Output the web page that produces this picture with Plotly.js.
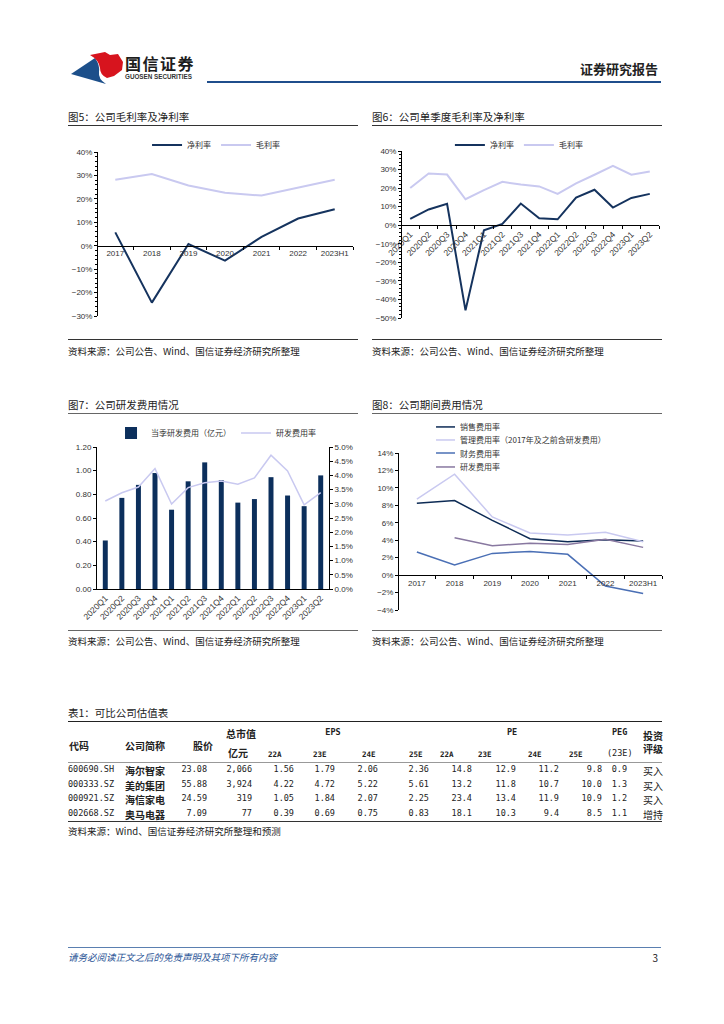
<!DOCTYPE html>
<html><head><meta charset="utf-8">
<script src="https://cdn.plot.ly/plotly-3.0.1.min.js"></script>
<style>
body{margin:0;background:#fff;}
#page{position:relative;width:724px;height:1024px;overflow:hidden;font-family:"Noto Sans CJK SC","Noto Sans",sans-serif;color:#222;background:#fff;}
.t{position:absolute;white-space:nowrap;}
.hl{position:absolute;height:0;}
.plot{position:absolute;}
</style></head><body><div id="page">
<svg style="position:absolute;left:68px;top:50px" width="60" height="36" viewBox="0 0 60 36">
 <path d="M3,24 L27,8 Q32,15 31,22 Q30,29 38,34 Z" fill="#1c4f8a"/>
 <path d="M22,5 L37,2 L42,5 L50,4 L55,12 L54,20 L46,26 L39,28 Q32,25 32,18 Q31,10 22,5 Z" fill="#d7141e"/>
</svg>
<div id="p5" class="plot"></div>
<div id="p6" class="plot"></div>
<div id="p7" class="plot"></div>
<div id="p8" class="plot"></div>
</div>
<script>
// ---------- DATA ----------
const annualYears = ['2017','2018','2019','2020','2021','2022','2023H1'];
const netMarginAnnual = [5.7, -24.3, 0.7, -6.4, 3.8, 11.6, 15.6];
const grossMarginAnnual = [28.2, 30.6, 25.7, 22.6, 21.4, 24.7, 28.2];

const quarters = ['2020Q1','2020Q2','2020Q3','2020Q4','2021Q1','2021Q2','2021Q3','2021Q4','2022Q1','2022Q2','2022Q3','2022Q4','2023Q1','2023Q2'];
const netMarginQ = [3.4, 8.5, 11.5, -45.9, -2.7, 0.7, 11.7, 3.8, 3.2, 14.9, 19.1, 9.5, 14.7, 16.9];
const grossMarginQ = [20.1, 27.9, 27.3, 14.0, 18.9, 23.4, 21.9, 20.9, 16.9, 22.5, 27.2, 32.0, 27.2, 29.0];

const rdExpenseQ = [0.41, 0.77, 0.88, 0.98, 0.67, 0.91, 1.07, 0.92, 0.73, 0.76, 0.945, 0.79, 0.70, 0.96];
const rdRatioQ = [3.10, 3.39, 3.59, 4.24, 2.99, 3.57, 3.74, 3.80, 3.69, 3.91, 4.71, 4.16, 2.96, 3.39];

const sellingRatio = [8.24, 8.54, 6.28, 4.18, 3.83, 4.06, 3.91];
const adminRatio = [8.70, 11.57, 6.67, 4.83, 4.60, 4.90, 3.83];
const financeRatio = [2.64, 1.15, 2.49, 2.72, 2.38, -1.26, -2.11];
const rdRatioAnnual = [null, 4.29, 3.37, 3.64, 3.52, 4.10, 3.18];

const tblCodes = ['600690.SH','000333.SZ','000921.SZ','002668.SZ'];
const tblNames = ['海尔智家','美的集团','海信家电','奥马电器'];
const tblPrice = ['23.08','55.88','24.59','7.09'];
const tblMcap = ['2,066','3,924','319','77'];
const eps22A = ['1.56','4.22','1.05','0.39'];
const eps23E = ['1.79','4.72','1.84','0.69'];
const eps24E = ['2.06','5.22','2.07','0.75'];
const eps25E = ['2.36','5.61','2.25','0.83'];
const pe22A = ['14.8','13.2','23.4','18.1'];
const pe23E = ['12.9','11.8','13.4','10.3'];
const pe24E = ['11.2','10.7','11.9','9.4'];
const pe25E = ['9.8','10.0','10.9','8.5'];
const peg23E = ['0.9','1.3','1.2','1.1'];
const tblRating = ['买入','买入','买入','增持'];

// ---------- PAGE TEXT ----------
const page = document.getElementById('page');
function txt(s, x, y, opt){
  opt = opt || {};
  const d = document.createElement('div');
  d.className = 't';
  d.textContent = s;
  const fs = opt.size || 10;
  d.style.fontSize = fs + 'px';
  d.style.lineHeight = (fs*1.3) + 'px';
  d.style.top = (y - fs*0.65) + 'px';
  if (opt.anchor === 'r') { d.style.right = (724 - x) + 'px'; }
  else if (opt.anchor === 'c') { d.style.left = x + 'px'; d.style.transform = 'translateX(-50%)'; }
  else { d.style.left = x + 'px'; }
  if (opt.weight) d.style.fontWeight = opt.weight;
  if (opt.color) d.style.color = opt.color;
  if (opt.family) d.style.fontFamily = opt.family;
  if (opt.style) d.style.fontStyle = opt.style;
  if (opt.ls) d.style.letterSpacing = opt.ls + 'px';
  page.appendChild(d);
  return d;
}
function hline(x1, x2, y, w, c){
  const d = document.createElement('div');
  d.className = 'hl';
  d.style.left = x1 + 'px'; d.style.width = (x2 - x1) + 'px';
  d.style.top = y + 'px'; d.style.borderTop = w + 'px solid ' + c;
  page.appendChild(d);
}
// header
txt('国信证券', 125, 63, {size:16, weight:'700', color:'#1d1d1d', ls:1.5});
txt('GUOSEN SECURITIES', 125, 77, {size:6.3, weight:'700', color:'#333', family:'"Liberation Sans", Arial, sans-serif'});
txt('证券研究报告', 658, 69, {size:13, weight:'700', anchor:'r', color:'#222'});
hline(207, 661, 81, 2, '#1f4e8c');

// figure titles
const srcText = '资料来源：公司公告、Wind、国信证券经济研究所整理';
txt('图5：公司毛利率及净利率', 68, 117, {size:10.5});
txt('图6：公司单季度毛利率及净利率', 372, 117, {size:10.5});
hline(68, 358, 125, 1, '#333'); hline(372, 662, 125, 1, '#333');
hline(68, 358, 339, 1, '#333'); hline(372, 662, 339, 1, '#333');
txt(srcText, 68, 351, {size:9.5});
txt(srcText, 372, 351, {size:9.5});

txt('图7：公司研发费用情况', 68, 405, {size:10.5});
txt('图8：公司期间费用情况', 372, 405, {size:10.5});
hline(68, 358, 413, 1, '#666'); hline(372, 662, 413, 1, '#666');
hline(68, 358, 630, 1, '#666'); hline(372, 662, 630, 1, '#666');
txt(srcText, 68, 641, {size:9.5});
txt(srcText, 372, 641, {size:9.5});

// table
txt('表1：可比公司估值表', 68, 713, {size:10.5});
hline(68, 662, 721, 1.5, '#222');
const hb = {size:10, weight:'700'};
txt('代码', 69, 745, hb); txt('公司简称', 125, 745, hb); txt('股价', 193, 745, hb);
txt('总市值', 226, 733, hb); txt('亿元', 228, 752, hb);
txt('EPS', 333, 733, {size:8.5, anchor:'c', weight:'700', family:'"DejaVu Sans Mono", monospace'});
txt('PE', 512, 733, {size:8.5, anchor:'c', weight:'700', family:'"DejaVu Sans Mono", monospace'});
txt('PEG', 612, 733, {size:8.5, weight:'700', family:'"DejaVu Sans Mono", monospace'});
txt('(23E)', 607, 754, {size:8.5, family:'"DejaVu Sans Mono", monospace'});
txt('投资', 643, 735, hb); txt('评级', 643, 748, hb);
const subX = [268, 313, 362, 409, 440, 478, 528, 569];
const subL = ['22A','23E','24E','25E','22A','23E','24E','25E'];
subL.forEach((s,i)=>txt(s, subX[i], 755, {size:7.5, family:'"DejaVu Sans Mono", monospace', weight:'700'}));
hline(68, 662, 762, 1, '#999');
const rowY = [770, 785, 799, 814];
const numCols = [
  [tblPrice, 207], [tblMcap, 252], [eps22A, 294], [eps23E, 335], [eps24E, 378], [eps25E, 429],
  [pe22A, 472], [pe23E, 516], [pe24E, 559], [pe25E, 602], [peg23E, 627]
];
const mono = '"DejaVu Sans Mono", "Liberation Mono", monospace';
rowY.forEach((y, r) => {
  txt(tblCodes[r], 68, y, {size:8.5, family:mono});
  txt(tblNames[r], 125, y, {size:10, weight:'700'});
  numCols.forEach(c => txt(c[0][r], c[1], y, {size:8.5, family:mono, anchor:'r'}));
  txt(tblRating[r], 643, y, {size:10});
});
hline(68, 662, 821, 1, '#333');
txt('资料来源：Wind、国信证券经济研究所整理和预测', 68, 831, {size:9.5});

// footer
hline(68, 661, 947, 1, '#5a7fb0');
txt('请务必阅读正文之后的免责声明及其项下所有内容', 68, 957, {size:9.5, color:'#2a5496', style:'italic'});
txt('3', 658, 957, {size:10, anchor:'r', color:'#222'});

// ---------- CHARTS ----------
const NAVY = '#15335e', LAV = '#c9c9f0';
const tickFont = {family:'"Liberation Sans", Arial, sans-serif', size:8, color:'#333'};
const legFont = {family:'"Noto Sans CJK SC", sans-serif', size:8, color:'#333'};
const cfg = {displayModeBar:false, staticPlot:true};
function place(id, l, t, w, h){ const d = document.getElementById(id); d.style.left=l+'px'; d.style.top=t+'px'; d.style.width=w+'px'; d.style.height=h+'px'; }
function yax(range, dtick, extra){
  return Object.assign({range:range, dtick:dtick, showline:true, linecolor:'#000', linewidth:1, ticks:'outside', ticklen:3, tickcolor:'#000',
    minor:{ticks:'outside', ticklen:2, tickcolor:'#000', dtick:dtick/5}, showgrid:false, zeroline:false, tickfont:tickFont, fixedrange:true}, extra||{});
}
function xcat(n, pos, angle, fs){
  return {type:'category', anchor:'free', position:pos, range:[-0.5, n-0.5], showline:true, linecolor:'#000', linewidth:1, ticks:'outside', ticklen:3, tickcolor:'#000',
    tickson:'boundaries', showgrid:false, zeroline:false, tickfont:Object.assign({}, tickFont, {size:fs||8}), tickangle:angle, automargin:false,
    ticklabeloverflow:'allow'};
}
function base(m, leg){
  return {width:m.w, height:m.h, margin:{l:m.l, r:m.r, t:m.t, b:m.b, pad:0, autoexpand:false}, paper_bgcolor:'rgba(0,0,0,0)', plot_bgcolor:'rgba(0,0,0,0)',
    font:tickFont, showlegend:true, legend:Object.assign({font:legFont, bgcolor:'rgba(0,0,0,0)', itemwidth:30}, leg)};
}

// Fig 5
place('p5', 60, 127, 302, 210);
Plotly.newPlot('p5', [
  {x:annualYears, y:netMarginAnnual, name:'净利率', type:'scatter', mode:'lines', line:{color:NAVY, width:2}},
  {x:annualYears, y:grossMarginAnnual, name:'毛利率', type:'scatter', mode:'lines', line:{color:LAV, width:2}}
], Object.assign(base({w:302,h:210,l:37,r:9,t:25,b:21}, {orientation:'h', x:0.465, xanchor:'center', y:1.043, yanchor:'middle'}), {
  xaxis: xcat(annualYears.length, 30/70, 0, 8),
  yaxis: yax([-30,40], 10, {ticksuffix:'%', anchor:'free', position:0})
}), cfg);

// Fig 6
place('p6', 365, 127, 300, 210);
Plotly.newPlot('p6', [
  {x:quarters, y:netMarginQ, name:'净利率', type:'scatter', mode:'lines', line:{color:NAVY, width:2}},
  {x:quarters, y:grossMarginQ, name:'毛利率', type:'scatter', mode:'lines', line:{color:LAV, width:2}}
], Object.assign(base({w:300,h:210,l:36,r:6,t:24,b:19}, {orientation:'h', x:0.457, xanchor:'center', y:1.036, yanchor:'middle'}), {
  xaxis: xcat(quarters.length, 50/90, -45, 8.5),
  yaxis: yax([-50,40], 10, {ticksuffix:'%', anchor:'free', position:0})
}), cfg);

// Fig 7
place('p7', 60, 413, 302, 217);
Plotly.newPlot('p7', [
  {x:quarters, y:rdExpenseQ, name:'当季研发费用（亿元）', type:'bar', marker:{color:'#0c2f5c'}},
  {x:quarters, y:rdRatioQ, name:'研发费用率', type:'scatter', mode:'lines', line:{color:LAV, width:1.5}, yaxis:'y2'}
], Object.assign(base({w:302,h:217,l:37,r:33,t:34,b:41}, {orientation:'h', x:0.513, xanchor:'center', y:1.099, yanchor:'middle'}), {
  bargap:0.7,
  xaxis: Object.assign(xcat(quarters.length, 0, -45, 8.5), {anchor:'y', ticks:''}),
  yaxis: yax([0,1.2], 0.2, {tickformat:'.2f', minor:{ticks:''}}),
  yaxis2: yax([0,5], 0.5, {overlaying:'y', side:'right', ticksuffix:'%', tickformat:'.1f', minor:{ticks:''}})
}), cfg);

// Fig 8 (legend drawn in paper coordinates to match the compact spacing)
const leg8Names = ['销售费用率','管理费用率（2017年及之前含研发费用）','财务费用率','研发费用率'];
const leg8Colors = ['#0d2b55', LAV, '#4a6fb5', '#8878a0'];
const leg8Y = [1.166, 1.083, 1.0, 0.911];
const shapes8 = leg8Y.map((y,i)=>({type:'line', xref:'paper', yref:'paper', x0:0.144, x1:0.216, y0:y, y1:y, line:{color:leg8Colors[i], width:1.5}}));
const ann8 = leg8Y.map((y,i)=>({xref:'paper', yref:'paper', x:0.227, y:y, xanchor:'left', yanchor:'middle', showarrow:false, text:leg8Names[i], font:legFont}));
place('p8', 365, 413, 310, 217);
Plotly.newPlot('p8', [
  {x:annualYears, y:sellingRatio, name:leg8Names[0], type:'scatter', mode:'lines', line:{color:leg8Colors[0], width:1.5}},
  {x:annualYears, y:adminRatio, name:leg8Names[1], type:'scatter', mode:'lines', line:{color:leg8Colors[1], width:1.5}},
  {x:annualYears, y:financeRatio, name:leg8Names[2], type:'scatter', mode:'lines', line:{color:leg8Colors[2], width:1.5}},
  {x:annualYears, y:rdRatioAnnual, name:leg8Names[3], type:'scatter', mode:'lines', line:{color:leg8Colors[3], width:1.5}}
], Object.assign(base({w:310,h:217,l:33,r:13,t:40,b:20}, {}), {
  showlegend:false, shapes:shapes8, annotations:ann8,
  xaxis: xcat(annualYears.length, 4/18, 0, 8),
  yaxis: yax([-4,14], 2, {ticksuffix:'%', anchor:'free', position:0, minor:{ticks:''}})
}), cfg);
</script>
</body></html>
